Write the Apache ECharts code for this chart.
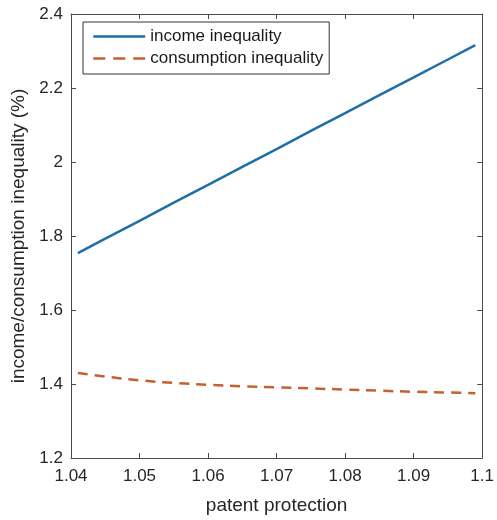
<!DOCTYPE html>
<html><head><meta charset="utf-8">
<script src="https://cdn.jsdelivr.net/npm/echarts@6/dist/echarts.min.js"></script>
<style>html,body{margin:0;padding:0;background:#fff}#c{width:497px;height:520px}</style>
</head><body><div id="c"></div>
<script>
var xValues = [1.041,1.045,1.05,1.055,1.06,1.065,1.07,1.075,1.08,1.085,1.09,1.095,1.099];
var incomeIneq = [1.754,1.793,1.841,1.890,1.938,1.987,2.035,2.084,2.132,2.181,2.229,2.277,2.316];
var consIneq = [1.430,1.420,1.410,1.403,1.398,1.394,1.391,1.388,1.385,1.382,1.379,1.377,1.375];
var seriesNames = ['income inequality','consumption inequality'];
var xTitle = 'patent protection';
var yTitle = 'income/consumption inequality (%)';

var font = "'Liberation Sans', Arial, sans-serif";
var axisCol = '#4a4a4a';
var blue = '#1f6fa6', orange = '#c6612f';
function pairs(ys){ return xValues.map(function(x,i){return [x, ys[i]];}); }
var chart = echarts.init(document.getElementById('c'));
var baseX = {type:'value', min:1.04, max:1.1, interval:0.01,
  axisLine:{show:true,lineStyle:{color:axisCol,width:1}},
  axisTick:{show:true,inside:true,length:5,lineStyle:{color:axisCol}},
  splitLine:{show:false}};
var baseY = {type:'value', min:1.2, max:2.4, interval:0.2,
  axisLine:{show:true,lineStyle:{color:axisCol,width:1}},
  axisTick:{show:true,inside:true,length:5,lineStyle:{color:axisCol}},
  splitLine:{show:false}};
chart.setOption({
  animation:false,
  grid:{left:71,right:14,top:14,bottom:62},
  legend:{orient:'vertical',left:83,top:22,
    data:[{name:seriesNames[0]},{name:seriesNames[1],lineStyle:{type:[12,8]}}],
    itemWidth:52,itemHeight:12,itemGap:5,itemStyle:{opacity:0},
    lineStyle:{width:2.5},
    padding:[6,6,7,9],
    borderColor:'#333',borderWidth:1,backgroundColor:'#fff',
    textStyle:{fontFamily:font,fontSize:17,color:'#1a1a1a'}},
  xAxis:[
    Object.assign({}, baseX, {position:'bottom', name:xTitle, nameLocation:'middle', nameGap:38,
      nameTextStyle:{fontFamily:font,fontSize:19,color:'#262626'},
      axisLabel:{fontFamily:font,fontSize:17,color:'#262626',margin:10,
        formatter:function(v){return +v.toFixed(2)+'';}}}),
    Object.assign({}, baseX, {position:'top', axisLabel:{show:false}})
  ],
  yAxis:[
    Object.assign({}, baseY, {position:'left', name:yTitle, nameLocation:'middle', nameGap:41,
      nameTextStyle:{fontFamily:font,fontSize:19,color:'#262626'},
      axisLabel:{fontFamily:font,fontSize:17,color:'#262626',margin:8,
        formatter:function(v){return +v.toFixed(1)+'';}}}),
    Object.assign({}, baseY, {position:'right', axisLabel:{show:false}})
  ],
  series:[
    {name:seriesNames[0],type:'line',data:pairs(incomeIneq),symbol:'none',smooth:false,
     lineStyle:{color:blue,width:2.5},itemStyle:{color:blue}},
    {name:seriesNames[1],type:'line',data:pairs(consIneq),symbol:'none',smooth:true,
     lineStyle:{color:orange,width:2.5,type:[10,7]},itemStyle:{color:orange}}
  ]
});
</script></body></html>
